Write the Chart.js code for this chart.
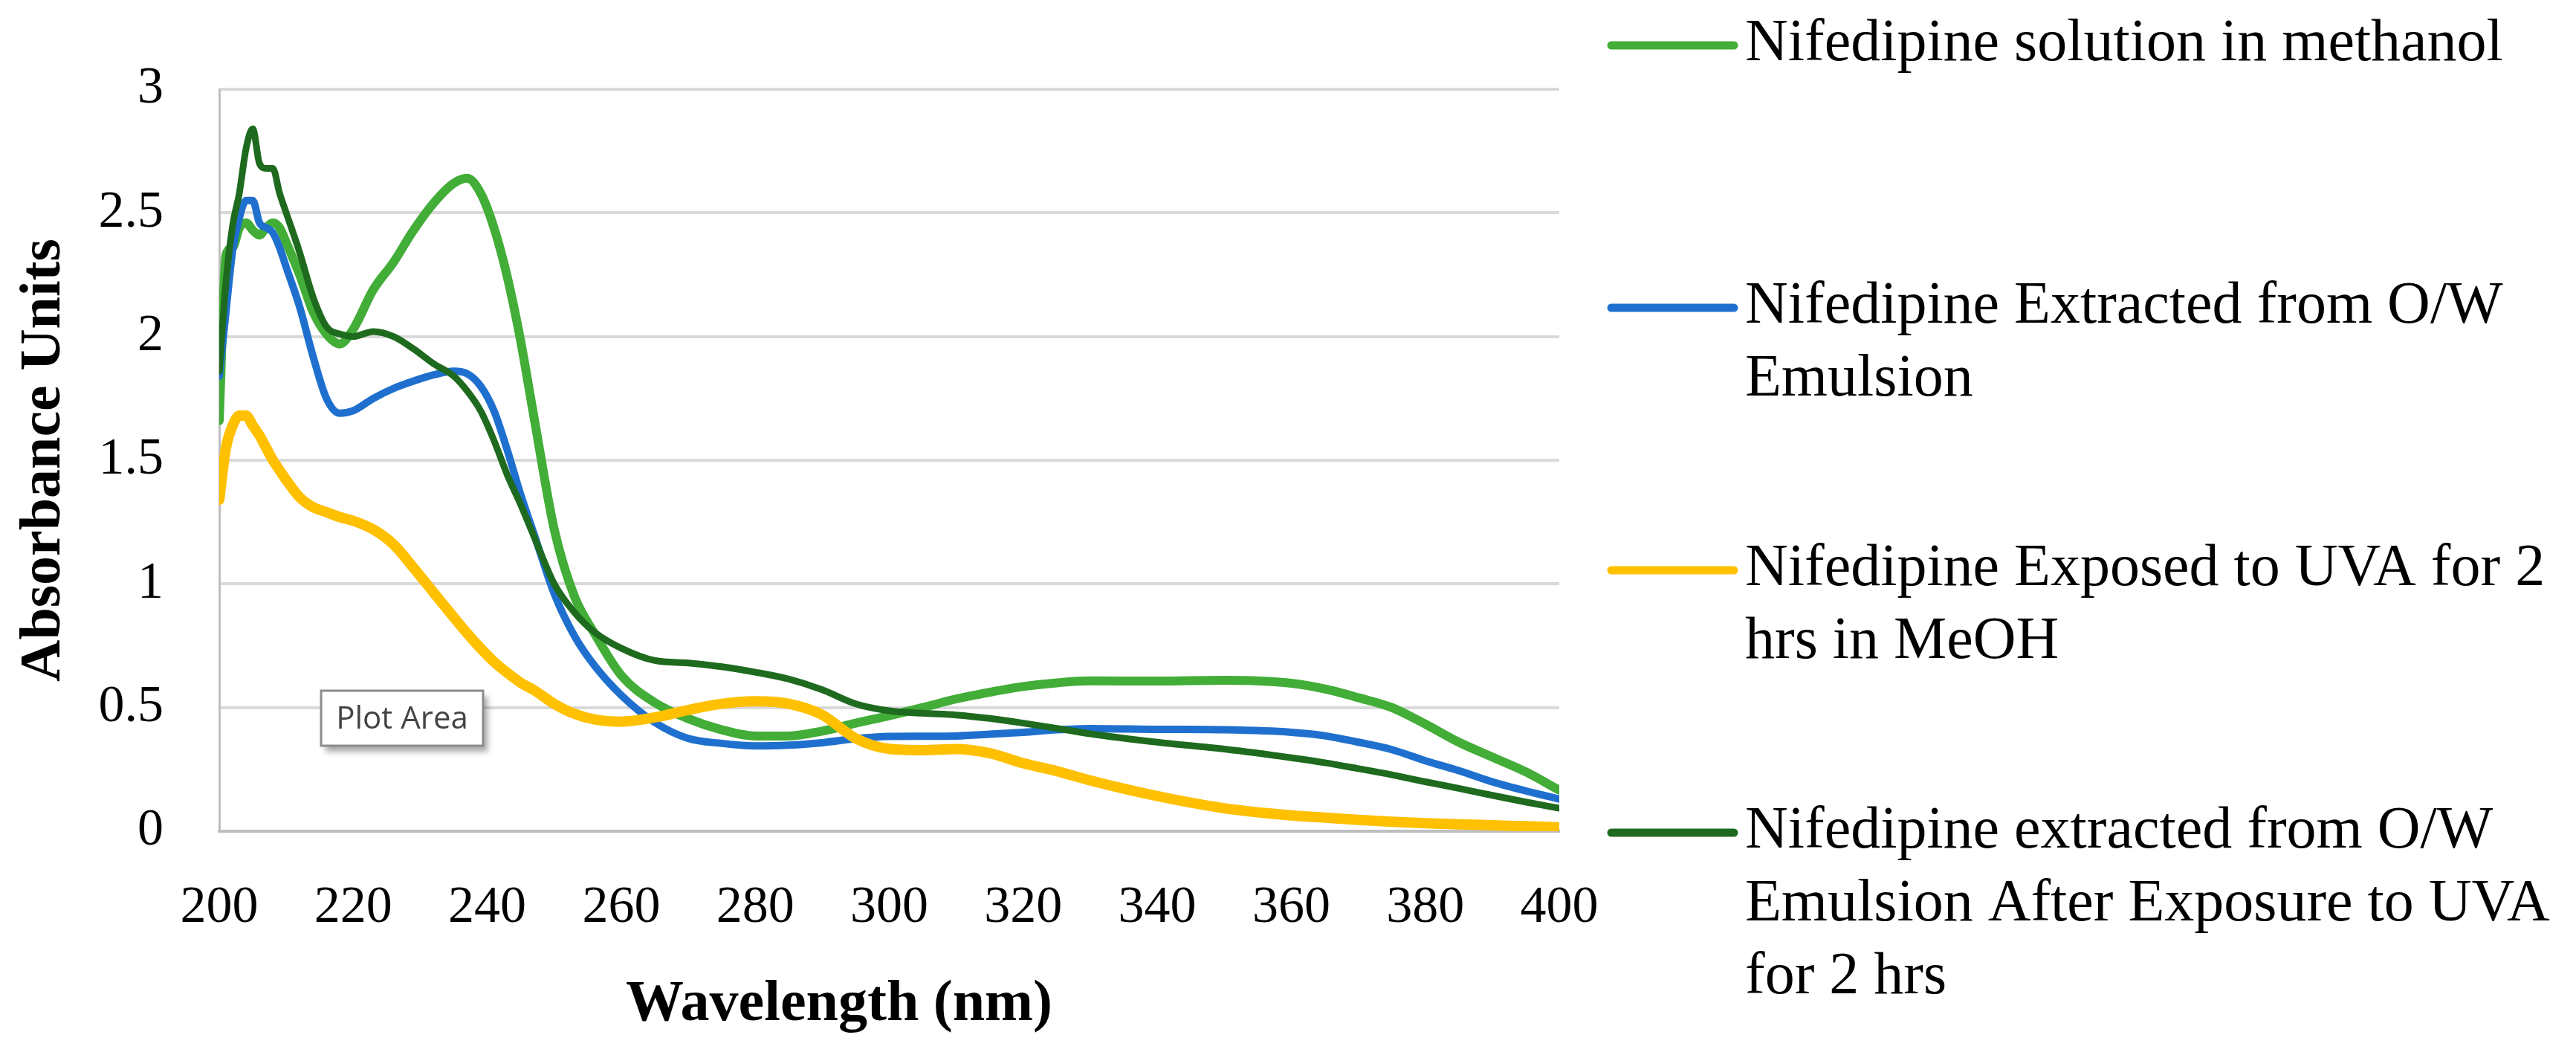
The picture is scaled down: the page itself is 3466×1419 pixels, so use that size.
<!DOCTYPE html>
<html>
<head>
<meta charset="utf-8">
<script src="https://cdn.jsdelivr.net/npm/chart.js@4.4.1/dist/chart.umd.min.js"></script>
<style>
  html, body { margin: 0; padding: 0; background: #fff; }
  canvas { display: block; }
</style>
</head>
<body>
<canvas id="spectraChart" width="3466" height="1419"></canvas>
<script>
var wavelengths = [200, 201, 202, 203, 204, 205, 206, 207, 208, 209, 210, 212, 214, 216, 218, 220,
    223, 226, 229, 232, 235, 237, 239, 241, 243, 245, 247, 250, 253, 256, 260, 265, 270, 275, 280,
    285, 290, 295, 300, 305, 310, 315, 320, 325, 330, 340, 350, 360, 365, 370, 375, 380, 385, 390, 395, 400];

var methanolSolution = [1.66, 2.33, 2.36, 2.44, 2.46, 2.43, 2.41, 2.44, 2.46, 2.44, 2.38, 2.25, 2.10, 2.01, 1.97, 2.03,
    2.19, 2.30, 2.43, 2.54, 2.62, 2.64, 2.58, 2.44, 2.24, 1.98, 1.67, 1.22, 0.95, 0.80, 0.63, 0.52, 0.455, 0.41, 0.385,
    0.385, 0.405, 0.437, 0.467, 0.50, 0.535, 0.562, 0.585, 0.60, 0.608, 0.607, 0.61, 0.598, 0.575, 0.54, 0.50, 0.433, 0.36, 0.30, 0.24, 0.166];

var extractedEmulsion = [1.84, 2.10, 2.35, 2.48, 2.55, 2.55, 2.46, 2.44, 2.42, 2.36, 2.28, 2.12, 1.92, 1.75, 1.69, 1.70,
    1.75, 1.79, 1.82, 1.845, 1.86, 1.85, 1.80, 1.70, 1.54, 1.36, 1.20, 0.96, 0.79, 0.67, 0.55, 0.44, 0.375, 0.355, 0.345,
    0.348, 0.358, 0.374, 0.383, 0.384, 0.385, 0.392, 0.40, 0.41, 0.415, 0.412, 0.41, 0.40, 0.386, 0.36, 0.33, 0.285, 0.245, 0.20, 0.163, 0.13];

var exposedMeOH = [1.34, 1.55, 1.64, 1.68, 1.68, 1.64, 1.60, 1.55, 1.50, 1.46, 1.42, 1.35, 1.31, 1.29, 1.27, 1.255,
    1.22, 1.16, 1.065, 0.965, 0.865, 0.80, 0.74, 0.685, 0.64, 0.60, 0.57, 0.515, 0.475, 0.452, 0.443, 0.46, 0.49, 0.515, 0.525,
    0.515, 0.47, 0.375, 0.333, 0.328, 0.332, 0.315, 0.275, 0.243, 0.205, 0.142, 0.093, 0.064, 0.055, 0.046, 0.038, 0.032, 0.028, 0.024, 0.02, 0.016];

var extractedAfterUVA = [1.86, 2.22, 2.45, 2.58, 2.76, 2.84, 2.70, 2.68, 2.68, 2.58, 2.50, 2.34, 2.16, 2.04, 2.01, 2.00,
    2.02, 2.00, 1.95, 1.89, 1.84, 1.78, 1.70, 1.58, 1.44, 1.32, 1.19, 1.00, 0.885, 0.805, 0.74, 0.69, 0.68, 0.665, 0.643,
    0.615, 0.572, 0.515, 0.487, 0.477, 0.47, 0.456, 0.437, 0.416, 0.394, 0.36, 0.332, 0.297, 0.277, 0.253, 0.228, 0.20, 0.173, 0.145, 0.118, 0.093];

var seriesLabels = [
    'Nifedipine solution in methanol',
    'Nifedipine Extracted from O/W\nEmulsion',
    'Nifedipine Exposed to UVA for 2\nhrs in MeOH',
    'Nifedipine extracted from O/W\nEmulsion After Exposure to UVA\nfor 2 hrs'
];
var seriesColors = ['#42AD37', '#1F70CE', '#FFC000', '#1E6A1E'];
var seriesWidths = [12, 10, 14, 9];

var xTickValues = [200, 220, 240, 260, 280, 300, 320, 340, 360, 380, 400];
var yTickValues = [0, 0.5, 1, 1.5, 2, 2.5, 3];

var xTitle = 'Wavelength (nm)';
var yTitle = 'Absorbance Units';

var serif = '"Liberation Serif", "Times New Roman", serif';

function toPoints(values) {
    return wavelengths.map(function (w, i) { return { x: w, y: values[i] }; });
}

var seriesValues = [methanolSolution, extractedEmulsion, exposedMeOH, extractedAfterUVA];

var datasets = seriesValues.map(function (vals, i) {
    return {
        label: seriesLabels[i],
        data: toPoints(vals),
        borderColor: seriesColors[i],
        backgroundColor: seriesColors[i],
        borderWidth: seriesWidths[i],
        pointRadius: 0,
        cubicInterpolationMode: 'monotone',
        borderCapStyle: 'round',
        borderJoinStyle: 'round',
        fill: false,
        order: seriesValues.length - 1 - i
    };
});

// legend, x title and the "Plot Area" tag drawn on top
var overlayPlugin = {
    id: 'overlay',
    afterDraw: function (chart) {
        var ctx = chart.ctx;
        ctx.save();

        ctx.fillStyle = '#000';
        ctx.font = 'bold 78px ' + serif;
        ctx.textAlign = 'center';
        ctx.textBaseline = 'alphabetic';
        ctx.fillText(xTitle, 1129, 1372);

        chart.data.datasets.forEach(function (ds, i) {
            var y = 61 + i * 353;
            ctx.strokeStyle = ds.borderColor;
            ctx.lineWidth = 11;
            ctx.lineCap = 'round';
            ctx.beginPath();
            ctx.moveTo(2168, y);
            ctx.lineTo(2333, y);
            ctx.stroke();

            ctx.fillStyle = '#000';
            ctx.font = '80px ' + serif;
            ctx.textAlign = 'left';
            ds.label.split('\n').forEach(function (line, j) {
                ctx.fillText(line, 2348, y + 20 + j * 98);
            });
        });

        // Excel "Plot Area" hover tag
        ctx.save();
        ctx.shadowColor = 'rgba(0,0,0,0.35)';
        ctx.shadowBlur = 8;
        ctx.shadowOffsetX = 6;
        ctx.shadowOffsetY = 8;
        ctx.fillStyle = '#fff';
        ctx.fillRect(432, 929, 218, 74);
        ctx.restore();
        ctx.strokeStyle = '#8c8c8c';
        ctx.lineWidth = 3;
        ctx.strokeRect(432, 929, 218, 74);
        ctx.fillStyle = '#444';
        ctx.font = '42px "Open Sans", "Noto Sans", sans-serif';
        ctx.textAlign = 'center';
        ctx.textBaseline = 'middle';
        ctx.fillText('Plot Area', 541, 968);

        ctx.restore();
    }
};

var whiteBg = {
    id: 'whiteBg',
    beforeDraw: function (chart) {
        var ctx = chart.ctx;
        ctx.save();
        ctx.fillStyle = '#fff';
        ctx.fillRect(0, 0, chart.width, chart.height);
        ctx.restore();
    }
};

var ctx = document.getElementById('spectraChart').getContext('2d');
new Chart(ctx, {
    type: 'line',
    data: { datasets: datasets },
    plugins: [whiteBg, overlayPlugin],
    options: {
        responsive: false,
        animation: false,
        devicePixelRatio: 1,
        layout: { padding: { left: 0, top: 120, right: 1368, bottom: 0 } },
        plugins: {
            legend: { display: false },
            tooltip: { enabled: false }
        },
        scales: {
            x: {
                type: 'linear',
                min: 200,
                max: 400,
                afterBuildTicks: function (scale) {
                    scale.ticks = xTickValues.map(function (v) { return { value: v }; });
                },
                afterFit: function (scale) { scale.height = 301; },
                grid: { display: false, drawTicks: false },
                border: { display: true, color: '#BFBFBF', width: 4 },
                ticks: {
                    color: '#000',
                    padding: 62,
                    maxRotation: 0,
                    font: { family: serif, size: 70 },
                    callback: function (v) { return String(v); }
                }
            },
            y: {
                min: 0,
                max: 3,
                afterBuildTicks: function (scale) {
                    scale.ticks = yTickValues.map(function (v) { return { value: v }; });
                },
                afterFit: function (scale) { scale.width = 295; },
                grid: { color: '#D9D9D9', lineWidth: 4, drawTicks: false },
                border: { display: true, color: '#BFBFBF', width: 3 },
                ticks: {
                    color: '#000',
                    padding: 75,
                    font: { family: serif, size: 70 },
                    callback: function (v) { return String(v); }
                },
                title: {
                    display: true,
                    text: yTitle,
                    color: '#000',
                    padding: { top: 13, bottom: 0 },
                    font: { family: serif, size: 78, weight: 'bold' }
                }
            }
        }
    }
});
</script>
</body>
</html>
